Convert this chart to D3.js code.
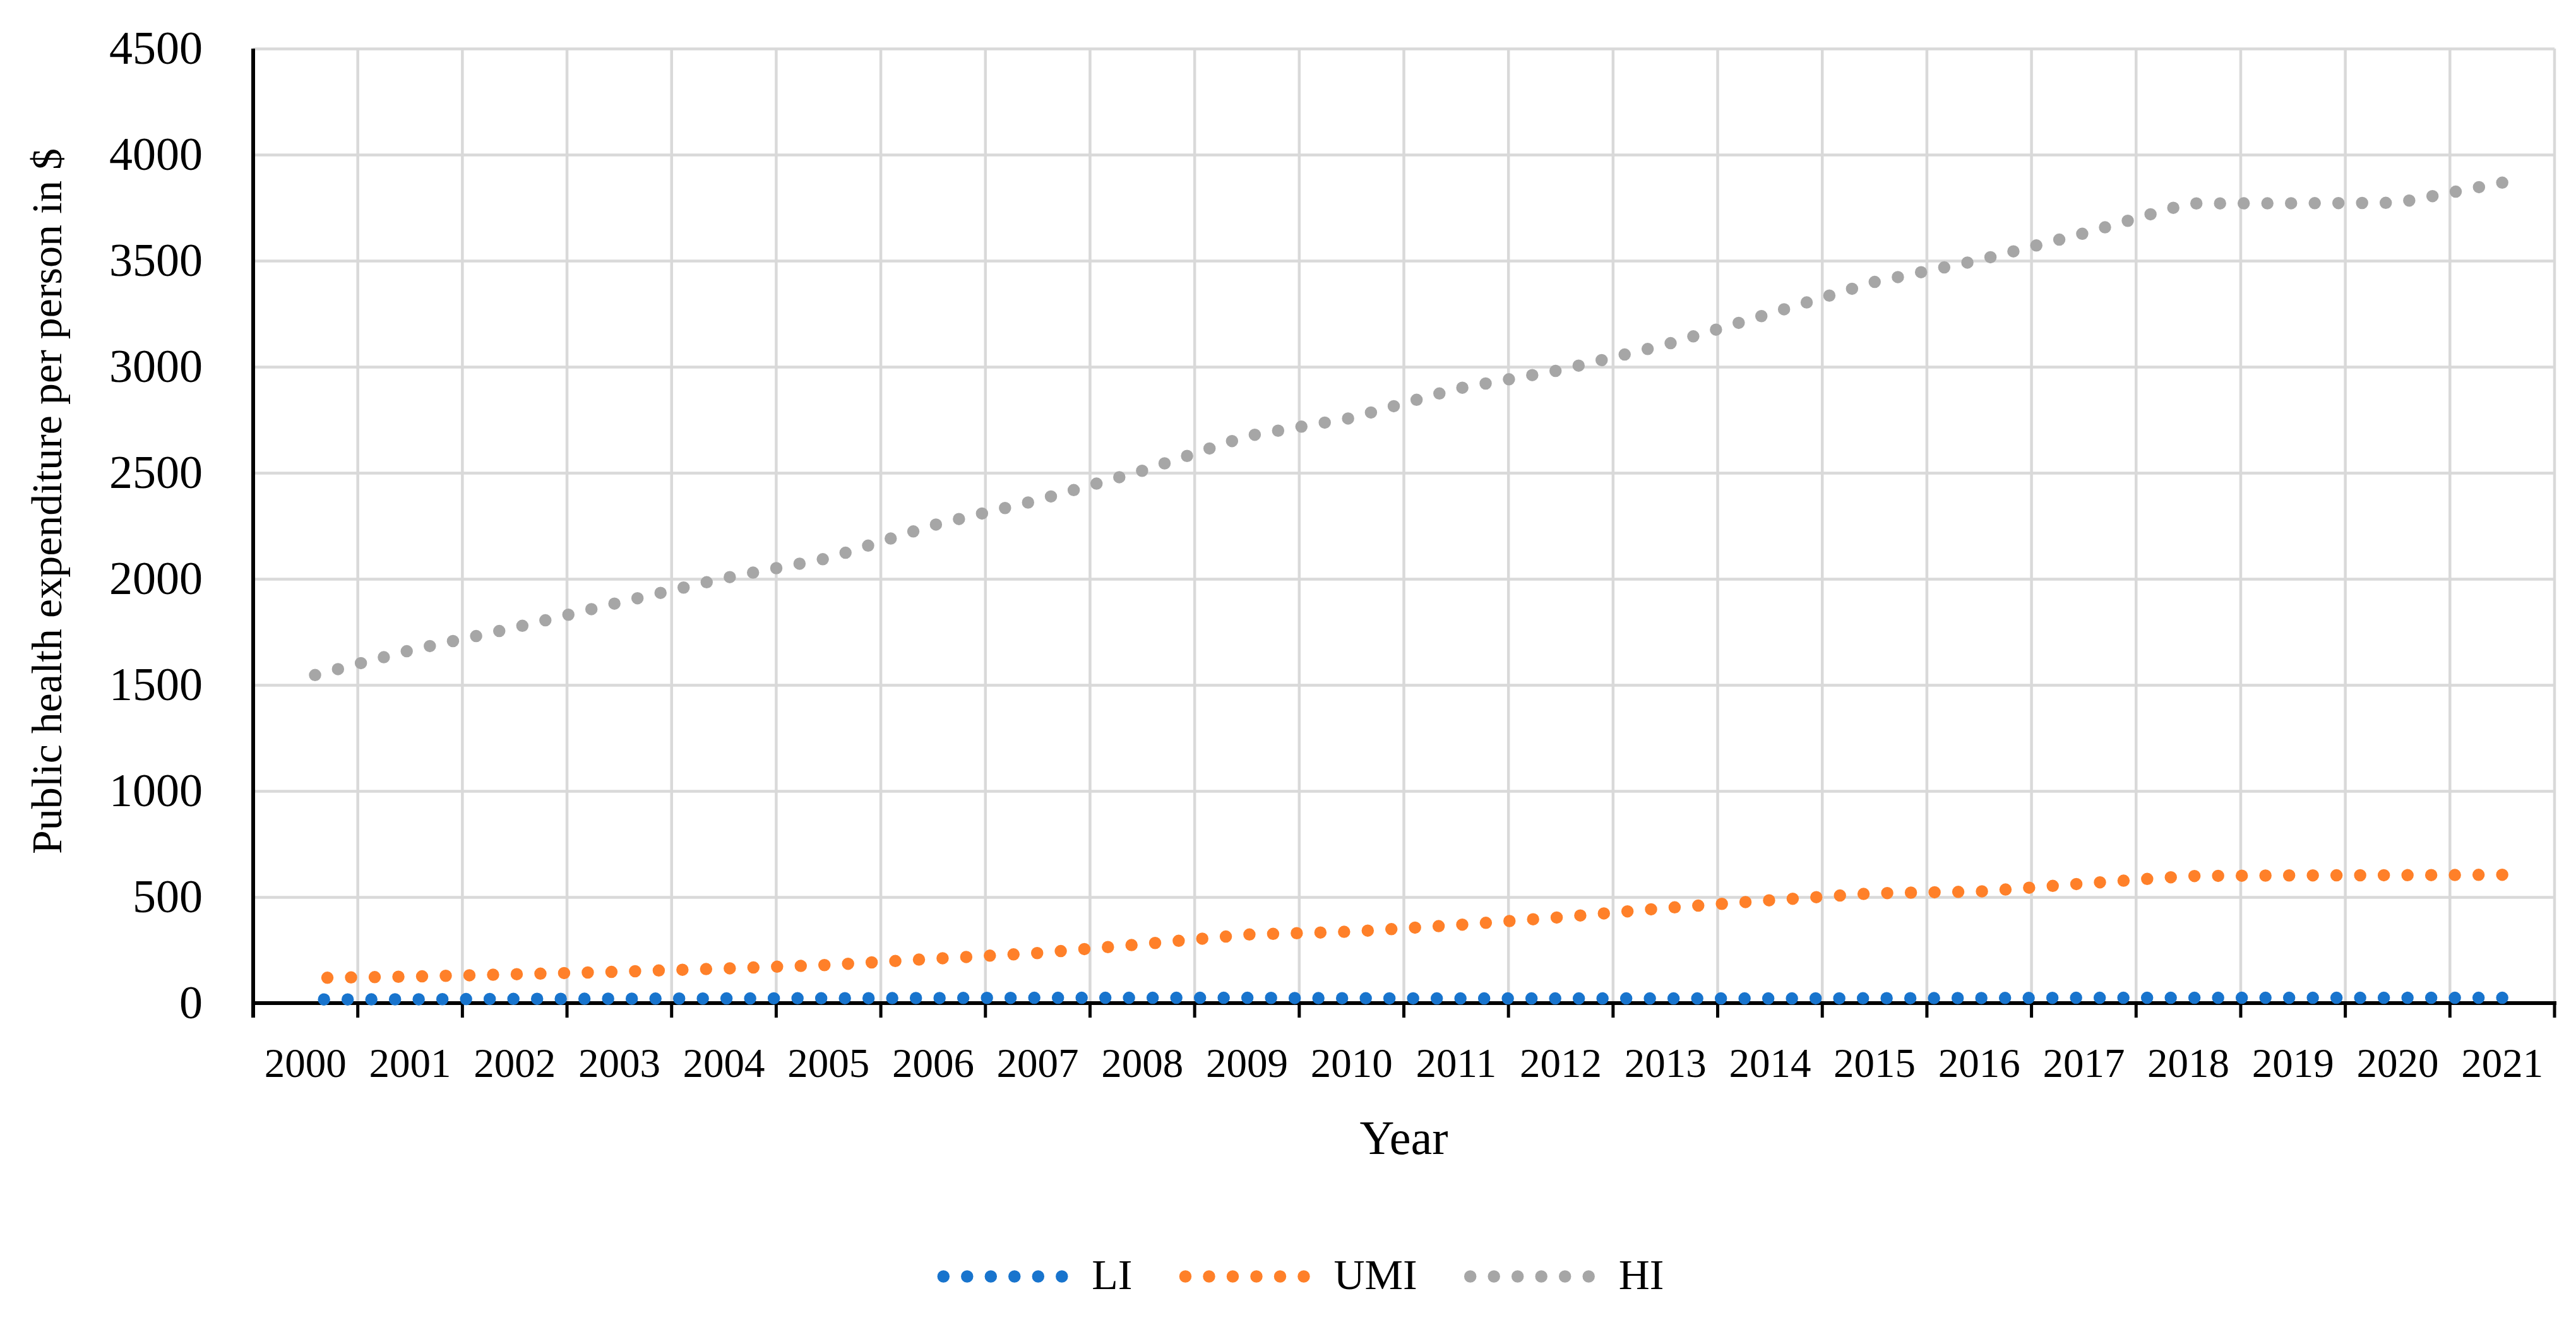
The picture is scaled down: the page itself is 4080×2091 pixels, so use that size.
<!DOCTYPE html>
<html lang="en">
<head>
<meta charset="utf-8">
<!-- Load d3.js -->
<script src="https://d3js.org/d3.v7.min.js"></script>
<style>
body { margin: 0; background: #ffffff; }
#chart text { font-family: "Palatino Linotype", "Book Antiqua", Palatino, "Liberation Serif", serif; fill: #000; }
</style>
</head>
<body>
<div id="chart"></div>
<script>
// values
var years = ["2000", "2001", "2002", "2003", "2004", "2005", "2006", "2007", "2008", "2009", "2010",
             "2011", "2012", "2013", "2014", "2015", "2016", "2017", "2018", "2019", "2020", "2021"];
var LI  = [17, 18, 20, 21, 22, 23, 24, 25, 25, 25, 23, 22, 22, 22, 22, 23, 24, 25, 25, 25, 25, 25];
var UMI = [118, 125, 136, 148, 163, 180, 209, 236, 278, 323, 337, 368, 405, 448, 485, 518, 526, 564, 599, 602, 603, 605];
var HI  = [1535, 1663, 1770, 1889, 2003, 2098, 2253, 2371, 2510, 2673, 2759, 2896, 2985, 3104, 3251, 3400, 3503, 3629, 3770, 3771, 3773, 3868];
var seriesNames = ["LI", "UMI", "HI"];
var seriesColors = ["#1874CD", "#FF8029", "#A6A6A6"];
var yTicks = [0, 500, 1000, 1500, 2000, 2500, 3000, 3500, 4000, 4500];

var W = 4080, H = 2091;
var plot = { left: 401, right: 4046, top: 77, bottom: 1589 };

var svg = d3.select("#chart")
    .append("svg")
    .attr("width", W)
    .attr("height", H);

var x = d3.scaleBand()
    .domain(years)
    .range([plot.left, plot.right])
    .padding(0);

var y = d3.scaleLinear()
    .domain([0, 4500])
    .range([plot.bottom, plot.top]);

// horizontal gridlines
svg.append("g")
    .attr("transform", "translate(" + plot.left + ",0)")
    .call(d3.axisLeft(y).tickValues(yTicks.slice(1)).tickSize(-(plot.right - plot.left)).tickFormat(""))
    .call(function(g) { g.select(".domain").remove(); })
    .selectAll("line")
    .attr("stroke", "#d9d9d9")
    .attr("stroke-width", 4.5);

// vertical gridlines between the years (plus the right border)
var bounds = years.slice(1).map(function(d) { return x(d); }).concat([x.range()[1]]);
svg.append("g")
    .selectAll("line")
    .data(bounds)
    .enter().append("line")
    .attr("x1", function(d) { return d; })
    .attr("x2", function(d) { return d; })
    .attr("y1", plot.top)
    .attr("y2", plot.bottom)
    .attr("stroke", "#d9d9d9")
    .attr("stroke-width", 4.5);

// y axis labels (no thousands separator)
svg.append("g")
    .attr("transform", "translate(" + plot.left + ",0)")
    .call(d3.axisLeft(y).tickValues(yTicks).tickSize(0).tickPadding(80).tickFormat(d3.format("d")))
    .call(function(g) { g.select(".domain").remove(); })
    .selectAll("text")
    .style("font-size", "74px");

// y axis line
svg.append("line")
    .attr("x1", plot.left).attr("x2", plot.left)
    .attr("y1", plot.top).attr("y2", plot.bottom + 23)
    .attr("stroke", "#000").attr("stroke-width", 6);

// x axis labels
var xAxis = svg.append("g")
    .attr("transform", "translate(0," + plot.bottom + ")")
    .call(d3.axisBottom(x).tickSize(0));
xAxis.select(".domain").remove();
xAxis.selectAll("text")
    .attr("dy", null)
    .attr("y", 117)
    .style("font-size", "65px");

// x axis line + ticks on the category boundaries
svg.append("line")
    .attr("x1", plot.left - 3).attr("x2", plot.right + 3)
    .attr("y1", plot.bottom).attr("y2", plot.bottom)
    .attr("stroke", "#000").attr("stroke-width", 6);
svg.append("g")
    .selectAll("line")
    .data(bounds)
    .enter().append("line")
    .attr("x1", function(d) { return d; })
    .attr("x2", function(d) { return d; })
    .attr("y1", plot.bottom)
    .attr("y2", plot.bottom + 23)
    .attr("stroke", "#000")
    .attr("stroke-width", 5);

// axis titles
svg.append("text")
    .attr("x", (plot.left + plot.right) / 2)
    .attr("y", 1828)
    .attr("text-anchor", "middle")
    .style("font-size", "76px")
    .text("Year");

svg.append("text")
    .attr("transform", "translate(97,794) rotate(-90)")
    .attr("text-anchor", "middle")
    .style("font-size", "68px")
    .text("Public health expenditure per person in $");

// round-dot lines, drawn from the last year back so the dots line up on 2021
var allSeries = [LI, UMI, HI];
var line = d3.line()
    .x(function(d) { return x(d.year) + x.bandwidth() / 2; })
    .y(function(d) { return y(d.value); });

allSeries.forEach(function(vals, i) {
    var pts = years.map(function(yr, j) { return { year: yr, value: vals[j] }; }).reverse();
    svg.append("path")
        .datum(pts)
        .attr("d", line)
        .attr("fill", "none")
        .attr("stroke", seriesColors[i])
        .attr("stroke-width", 19.5)
        .attr("stroke-linecap", "round")
        .attr("stroke-dasharray", "0 37.5");
});

// legend
var legend = svg.append("g");
var items = legend.selectAll("g")
    .data(seriesNames)
    .enter().append("g");

items.append("line")
    .attr("x1", 0).attr("x2", 188)
    .attr("y1", 0).attr("y2", 0)
    .attr("stroke", function(d, i) { return seriesColors[i]; })
    .attr("stroke-width", 19.5)
    .attr("stroke-linecap", "round")
    .attr("stroke-dasharray", "0 37.5");

items.append("text")
    .attr("x", 235)
    .attr("y", 20)
    .style("font-size", "68px")
    .text(function(d) { return d; });

var pos = 0, starts = [];
items.each(function(d, i) {
    starts.push(pos);
    var tw = d3.select(this).select("text").node().getComputedTextLength();
    pos += 235 + tw + 84;
});
var total = pos - 84 + 9.75;
var legendLeft = 2060 - total / 2 + 9.75;
items.attr("transform", function(d, i) { return "translate(" + (legendLeft + starts[i]) + ",2022)"; });
</script>
</body>
</html>
